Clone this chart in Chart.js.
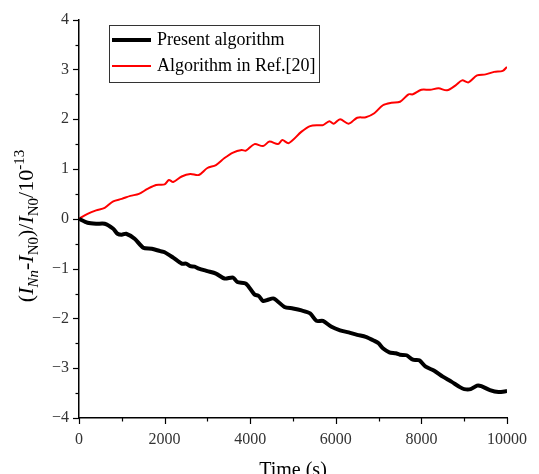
<!DOCTYPE html>
<html>
<head>
<meta charset="utf-8">
<script src="https://cdn.jsdelivr.net/npm/chart.js@4/dist/chart.umd.min.js"></script>
<style>
  html, body { margin: 0; padding: 0; background: #fff; }
  #wrap { width: 539px; height: 474px; }
</style>
</head>
<body>
<div id="wrap"><canvas id="errChart"></canvas></div>
<script>
// values (unit: 1e-13)
const presentTime = [0, 200, 400, 600, 800, 900, 1000, 1100, 1300, 1500, 1700, 1900, 2000, 2200, 2400,
  2500, 2600, 2700, 2800, 3000, 3200, 3400, 3600, 3700, 3900, 4100, 4200, 4300, 4400, 4550,
  4800, 5000, 5200, 5400, 5550, 5700, 5900, 6100, 6300, 6500, 6700, 6900, 7000, 7100, 7250,
  7400, 7500, 7650, 7800, 7950, 8100, 8300, 8500, 8700, 8900, 9000, 9150, 9300, 9400, 9600,
  9800, 10000];
const presentValues = [0, -0.08, -0.1, -0.1, -0.2, -0.3, -0.32, -0.3, -0.4, -0.58, -0.6, -0.65, -0.67, -0.78, -0.9,
  -0.9, -0.95, -0.96, -1.0, -1.05, -1.1, -1.2, -1.18, -1.27, -1.3, -1.52, -1.55, -1.65, -1.63, -1.6,
  -1.77, -1.8, -1.84, -1.9, -2.05, -2.05, -2.17, -2.24, -2.28, -2.33, -2.37, -2.45, -2.5, -2.6, -2.68,
  -2.7, -2.73, -2.74, -2.83, -2.84, -2.97, -3.05, -3.17, -3.27, -3.38, -3.42, -3.42, -3.35, -3.36, -3.44,
  -3.48, -3.46];

const refTime = [0, 200, 400, 600, 800, 1000, 1200, 1400, 1600, 1800, 2000, 2100, 2200, 2400, 2600,
  2800, 3000, 3200, 3400, 3600, 3800, 3900, 4100, 4300, 4450, 4650, 4750, 4900, 5200, 5400,
  5600, 5700, 5850, 5950, 6100, 6300, 6500, 6700, 6900, 7100, 7300, 7500, 7700, 7800, 8000,
  8200, 8400, 8600, 8800, 8950, 9100, 9300, 9500, 9700, 9900, 10000];
const refValues = [0, 0.1, 0.17, 0.22, 0.35, 0.4, 0.46, 0.5, 0.6, 0.68, 0.69, 0.78, 0.74, 0.85, 0.9,
  0.88, 1.02, 1.08, 1.22, 1.33, 1.38, 1.37, 1.5, 1.46, 1.55, 1.5, 1.58, 1.52, 1.75, 1.86,
  1.88, 1.88, 1.96, 1.91, 2.0, 1.91, 2.03, 2.04, 2.12, 2.28, 2.33, 2.35, 2.5, 2.5, 2.59,
  2.59, 2.62, 2.58, 2.68, 2.78, 2.74, 2.88, 2.9, 2.95, 2.97, 3.05];

const seriesNames = ['Present algorithm', 'Algorithm in Ref.[20]'];
const seriesColors = ['#000000', '#ff0000'];
const seriesWidths = [4, 2];
const xTicks = [0, 2000, 4000, 6000, 8000, 10000];
const yTicks = [-4, -3, -2, -1, 0, 1, 2, 3, 4];

const FONT = '"Liberation Serif", "Times New Roman", serif';

function toPoints(xs, ys) {
  return xs.map((x, i) => ({ x: x, y: ys[i] }));
}

// minor/major ticks, y title and boxed legend drawn on top of the chart
const decorPlugin = {
  id: 'decor',
  afterDraw(chart) {
    const ctx = chart.ctx;
    const xs = chart.scales.x, ys = chart.scales.y;
    const area = chart.chartArea;
    ctx.save();
    ctx.strokeStyle = '#000';
    ctx.lineWidth = 1.2;
    // x ticks (downwards)
    for (let v = 0; v <= 10000; v += 1000) {
      const px = Math.round(xs.getPixelForValue(v)) + 0.5;
      const len = xTicks.includes(v) ? 6 : 3.5;
      ctx.beginPath();
      ctx.moveTo(px, area.bottom);
      ctx.lineTo(px, area.bottom + len);
      ctx.stroke();
    }
    // y ticks (leftwards)
    for (let v = -4; v <= 4; v += 0.5) {
      const py = Math.round(ys.getPixelForValue(v)) + 0.5;
      const len = yTicks.includes(v) ? 6 : 3.5;
      ctx.beginPath();
      ctx.moveTo(area.left, py);
      ctx.lineTo(area.left - len, py);
      ctx.stroke();
    }

    // y axis title: (I_Nn - I_N0)/I_N0/10^-13
    const parts = [
      { t: '(', s: 22, it: false, dy: 0 },
      { t: 'I', s: 22, it: true, dy: 0 },
      { t: 'Nn', s: 15, it: true, dy: 5 },
      { t: '-', s: 22, it: false, dy: 0 },
      { t: 'I', s: 22, it: true, dy: 0 },
      { t: 'N0', s: 15, it: false, dy: 5 },
      { t: ')/', s: 22, it: false, dy: 0 },
      { t: 'I', s: 22, it: true, dy: 0 },
      { t: 'N0', s: 15, it: false, dy: 5 },
      { t: '/10', s: 22, it: false, dy: 0 },
      { t: '-13', s: 15, it: false, dy: -9 }
    ];
    let total = 0;
    parts.forEach(p => {
      ctx.font = (p.it ? 'italic ' : '') + p.s + 'px ' + FONT;
      p.w = ctx.measureText(p.t).width;
      total += p.w;
    });
    ctx.translate(33, 226);
    ctx.rotate(-Math.PI / 2);
    ctx.fillStyle = '#000';
    ctx.textBaseline = 'alphabetic';
    let cx = -total / 2;
    parts.forEach(p => {
      ctx.font = (p.it ? 'italic ' : '') + p.s + 'px ' + FONT;
      ctx.fillText(p.t, cx, p.dy);
      cx += p.w;
    });
    ctx.restore();

    // legend box
    ctx.save();
    const bx = 109.5, by = 25.5, bw = 210, bh = 57;
    ctx.strokeStyle = '#333';
    ctx.lineWidth = 1;
    ctx.strokeRect(bx, by, bw, bh);
    ctx.font = '18px ' + FONT;
    ctx.textBaseline = 'middle';
    ctx.fillStyle = '#000';
    const rows = [40, 66];
    chart.data.datasets.forEach((ds, i) => {
      ctx.strokeStyle = ds.borderColor;
      ctx.lineWidth = ds.borderWidth;
      ctx.beginPath();
      ctx.moveTo(112, rows[i]);
      ctx.lineTo(151, rows[i]);
      ctx.stroke();
      ctx.fillText(ds.label, 157, rows[i]);
    });
    ctx.restore();
  }
};

document.addEventListener('DOMContentLoaded', function() {
  const ctx = document.getElementById('errChart').getContext('2d');
  const chart = new Chart(ctx, {
    type: 'line',
    data: {
      datasets: [
        {
          label: seriesNames[0],
          data: toPoints(presentTime, presentValues),
          borderColor: seriesColors[0],
          borderWidth: seriesWidths[0],
          pointRadius: 0,
          tension: 0.25,
          fill: false
        },
        {
          label: seriesNames[1],
          data: toPoints(refTime, refValues),
          borderColor: seriesColors[1],
          borderWidth: seriesWidths[1],
          pointRadius: 0,
          tension: 0.3,
          fill: false
        }
      ]
    },
    options: {
      responsive: true,
      maintainAspectRatio: false,
      animation: false,
      layout: { padding: { top: 18, right: 32, bottom: 0, left: 0 } },
      plugins: {
        legend: { display: false },
        tooltip: { enabled: false }
      },
      scales: {
        x: {
          type: 'linear',
          min: 0,
          max: 10000,
          afterBuildTicks(scale) { scale.ticks = xTicks.map(v => ({ value: v })); },
          afterFit(scale) { scale.height = 56; },
          grid: { display: false, drawTicks: false },
          border: { display: true, color: '#000', width: 1.5 },
          ticks: {
            padding: 12,
            color: '#333',
            font: { family: FONT, size: 16 },
            maxRotation: 0,
            callback: v => String(v)
          },
          title: {
            display: true,
            text: 'Time (s)',
            color: '#000',
            font: { family: FONT, size: 20 },
            padding: { top: 12, bottom: -9 }
          }
        },
        y: {
          min: -4,
          max: 4,
          afterBuildTicks(scale) { scale.ticks = yTicks.map(v => ({ value: v })); },
          afterFit(scale) { scale.width = 79; },
          grid: { display: false, drawTicks: false },
          border: { display: true, color: '#000', width: 1.5 },
          ticks: {
            padding: 10,
            color: '#333',
            font: { family: FONT, size: 16 },
            callback: v => (v < 0 ? '\u2212' + Math.abs(v) : String(v))
          }
        }
      }
    },
    plugins: [decorPlugin]
  });
});
</script>
</body>
</html>
